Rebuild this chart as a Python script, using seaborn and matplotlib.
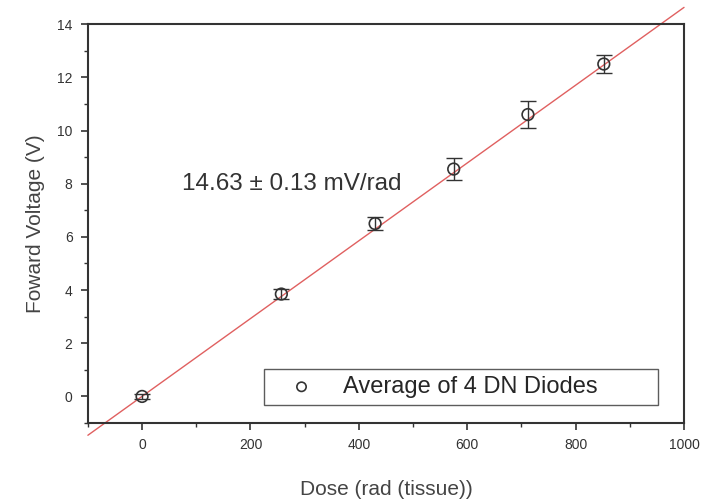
import pandas as pd
import seaborn as sns
import matplotlib.pyplot as plt
from matplotlib.ticker import MultipleLocator

# valores
dose = [0, 257, 430, 575, 712, 852]
voltagem = [0.0, 3.85, 6.5, 8.55, 10.6, 12.5]
erro = [0.1, 0.2, 0.25, 0.4, 0.5, 0.35]

# reta ajustada (14.63 mV/rad)
ajuste_x = [-100, 1000]
ajuste_y = [-1.46, 14.63]

df = pd.DataFrame({"dose": dose, "voltagem": voltagem, "erro": erro})
df_ajuste = pd.DataFrame({"x": ajuste_x, "y": ajuste_y})

sns.set_theme(style="white")
plt.rcParams["font.family"] = ["Liberation Sans", "DejaVu Sans"]

fig = plt.figure(figsize=(7.03, 5.03), dpi=100)
ax = fig.add_axes([0.125, 0.159, 0.848, 0.793])

sns.lineplot(data=df_ajuste, x="x", y="y", color="#e06060", linewidth=1.0, ax=ax)
for l in ax.lines:
    l.set_clip_on(False)

ax.errorbar(df["dose"], df["voltagem"], yerr=df["erro"], fmt="none",
            ecolor="#333333", elinewidth=1.0, capsize=6, capthick=1.0)

sns.scatterplot(data=df, x="dose", y="voltagem", marker="o", s=70,
                facecolor="none", edgecolor="#333333", linewidth=1.2,
                label="Average of 4 DN Diodes", ax=ax, zorder=5)

ax.set_xlim(-100, 1000)
ax.set_ylim(-1, 14)
ax.xaxis.set_major_locator(MultipleLocator(200))
ax.xaxis.set_minor_locator(MultipleLocator(100))
ax.yaxis.set_major_locator(MultipleLocator(2))
ax.yaxis.set_minor_locator(MultipleLocator(1))
ax.tick_params(which="major", direction="out", length=5, width=1.2,
               labelsize=10, colors="#333333", bottom=True, left=True, pad=6)
ax.tick_params(which="minor", direction="out", length=3, width=1.0,
               bottom=True, left=True, colors="#333333")

for s in ax.spines.values():
    s.set_color("#333333")
    s.set_linewidth(1.5)

ax.text(74, 7.97, "14.63 ± 0.13 mV/rad", fontsize=17.5, color="#333333",
        va="center", ha="left")

ax.set_xlabel("Dose (rad (tissue))", fontsize=15, color="#444444", labelpad=20)
ax.set_ylabel("Foward Voltage (V)", fontsize=15, color="#444444", labelpad=9)

leg = ax.legend(loc="lower left", bbox_to_anchor=(0.295, 0.045, 0.661, 0.088),
                mode="expand", fontsize=17, frameon=True, fancybox=False,
                edgecolor="#333333", handlelength=2.6, handletextpad=0.45,
                borderpad=0.3, borderaxespad=0, markerscale=0.8)
leg.get_frame().set_linewidth(1.0)

fig.savefig("out.png", dpi=100)
